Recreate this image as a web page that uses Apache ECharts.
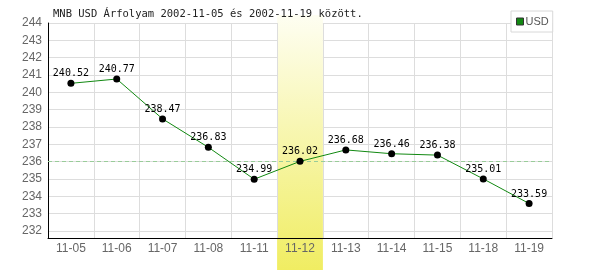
<!DOCTYPE html>
<html><head><meta charset="utf-8">
<script src="https://cdn.jsdelivr.net/npm/echarts@6/dist/echarts.min.js"></script>
<style>html,body{margin:0;padding:0;background:#fff}#c{width:600px;height:270px}</style>
</head><body><div id="c"></div>
<script>
const categories = ['11-05','11-06','11-07','11-08','11-11','11-12','11-13','11-14','11-15','11-18','11-19'];
const usdValues = [240.52,240.77,238.47,236.83,234.99,236.02,236.68,236.46,236.38,235.01,233.59];
const yTicks = [232,233,234,235,236,237,238,239,240,241,242,243,244];
const highlightCategory = '11-12';
const referenceValue = 236.02;
const titleText = 'MNB USD Árfolyam 2002-11-05 és 2002-11-19 között.';

const chart = echarts.init(document.getElementById('c'), null, {renderer:'canvas'});
const option = {
  animation: false,
  title: {text: titleText, left: 53, top: 9, padding: 0, textStyle: {fontFamily: 'DejaVu Sans Mono', fontSize: 10.5, fontWeight: 'normal', color: '#222'}},
  legend: {
    left: 511, top: 11, padding: [5, 4, 5, 5], itemWidth: 7, itemHeight: 7, itemGap: 0,
    backgroundColor: '#fff', borderColor: '#d8d8d8', borderWidth: 1,
    icon: 'rect',
    textStyle: {fontFamily: 'Liberation Sans', fontSize: 11, color: '#555', padding: [0,0,0,-3]},
    data: [{name: 'USD', itemStyle: {color: '#118811', borderColor: '#333', borderWidth: 1}}]
  },
  grid: {left: 48, right: 48, top: 23, bottom: 32},
  xAxis: {
    type: 'category', data: categories, boundaryGap: true, z: 3,
    axisLine: {lineStyle: {color: '#000', width: 1}},
    axisTick: {show: false},
    axisLabel: {fontFamily: 'Liberation Sans', fontSize: 12, color: '#666', margin: 5},
    splitLine: {show: true, lineStyle: {color: '#dddddd', width: 1}}
  },
  yAxis: [{
    type: 'value', min: 231.6, max: 244,
    axisLine: {show: false},
    axisTick: {show: false, customValues: yTicks},
    axisLabel: {customValues: yTicks, fontFamily: 'Liberation Sans', fontSize: 12, color: '#666', margin: 6},
    splitLine: {show: true, lineStyle: {color: '#dddddd', width: 1}}
  }, {
    type: 'value', min: 231.6, max: 244, position: 'left', z: 4,
    axisLine: {show: true, lineStyle: {color: '#000', width: 1}},
    axisTick: {show: false}, axisLabel: {show: false}, splitLine: {show: false}
  }],
  series: [{
    name: 'USD', type: 'line', data: usdValues, z: 5,
    lineStyle: {color: '#118811', width: 1},
    itemStyle: {color: '#000'},
    symbol: 'circle', symbolSize: 7, showAllSymbol: true,
    label: {show: true, position: 'top', distance: 1, fontFamily: 'DejaVu Sans Mono', fontSize: 10, color: '#000',
      formatter: p => p.value.toFixed(2)},
    markLine: {
      silent: true, symbol: ['none','none'], label: {show: false},
      lineStyle: {color: '#99cc99', type: [4,3], width: 1, opacity: 1},
      data: [{yAxis: referenceValue}]
    }
  }]
};
chart.setOption(option);
const idx = categories.indexOf(highlightCategory);
const xa = chart.convertToPixel({xAxisIndex: 0}, idx);
const xb = chart.convertToPixel({xAxisIndex: 0}, idx + 1);
const w = xb - xa;
chart.setOption({graphic: [{
  type: 'rect', z: 1, silent: true,
  shape: {x: xa - w / 2, y: 15, width: w, height: 270 - 15},
  style: {fill: new echarts.graphic.LinearGradient(0, 0, 0, 1, [{offset: 0, color: '#fefef2'}, {offset: 1, color: '#f0ed62'}])}
}]});
</script></body></html>
